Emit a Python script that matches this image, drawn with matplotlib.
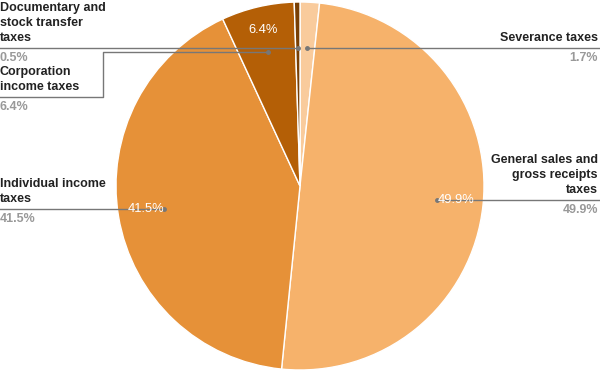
import numpy as np
import matplotlib.pyplot as plt

plt.rcParams['font.family'] = ['Liberation Sans', 'DejaVu Sans']

# data
labels = ['Severance taxes', 'General sales and\ngross receipts\ntaxes',
          'Individual income\ntaxes', 'Corporation\nincome taxes',
          'Documentary and\nstock transfer\ntaxes']
shares = [1.7, 49.9, 41.5, 6.4, 0.5]
colors = ['#F9CB9C', '#F6B26B', '#E69138', '#B45F06', '#783F04']
inner_shown = [False, True, True, True, False]

W, H = 600, 371
fig = plt.figure(figsize=(6, 3.71), dpi=100)
ax = fig.add_axes([0, 0, 1, 1])

cx, cy, R = 300, H - 186, 184
wedges, _ = ax.pie(shares, colors=colors, startangle=90, counterclock=False,
                   center=(cx, cy), radius=R, frame=True,
                   wedgeprops=dict(edgecolor='white', linewidth=1))
ax.set_xlim(0, W)
ax.set_ylim(0, H)
ax.axis('off')

line_col = '#777777'
name_kw = dict(fontsize=9, fontweight='bold', color='#222222', linespacing=1.33)
pct_kw = dict(fontsize=9, fontweight='bold', color='#999999')

for i, w in enumerate(wedges):
    mid = np.deg2rad((w.theta1 + w.theta2) / 2)
    dx, dy = np.cos(mid), np.sin(mid)
    ax_x, ax_y = cx + 0.75 * R * dx, cy + 0.75 * R * dy
    ax.plot(ax_x, ax_y, 'o', ms=2.5, color=line_col, zorder=5)
    right = dx > 0.02
    pct = f'{shares[i]}%'
    if i == 3:
        # corporation: elbow leader
        ly = H - 97
        ax.plot([ax_x, 103, 103, 0], [ax_y, ax_y, ly, ly], color=line_col, lw=1, zorder=4)
    else:
        ly = ax_y
        ax.plot([ax_x, W if right else 0], [ly, ly], color=line_col, lw=1, zorder=4)
    tx = W - 2 if right else 0
    ha = 'right' if right else 'left'
    ax.text(tx, ly + 4, labels[i], ha=ha, va='bottom', multialignment=ha, **name_kw)
    ax.text(tx, ly - 4, pct, ha=ha, va='top', **pct_kw)

    if inner_shown[i]:
        if shares[i] < 10:
            ax.text(cx + 0.87 * R * dx, cy + 0.87 * R * dy, pct, ha='center',
                    va='center', color='white', fontsize=9.3)
        else:
            ax.text(ax_x, ax_y, pct, ha='left' if right else 'right',
                    va='center', color='white', fontsize=9.3, zorder=6)

fig.savefig('out.png', dpi=100)
